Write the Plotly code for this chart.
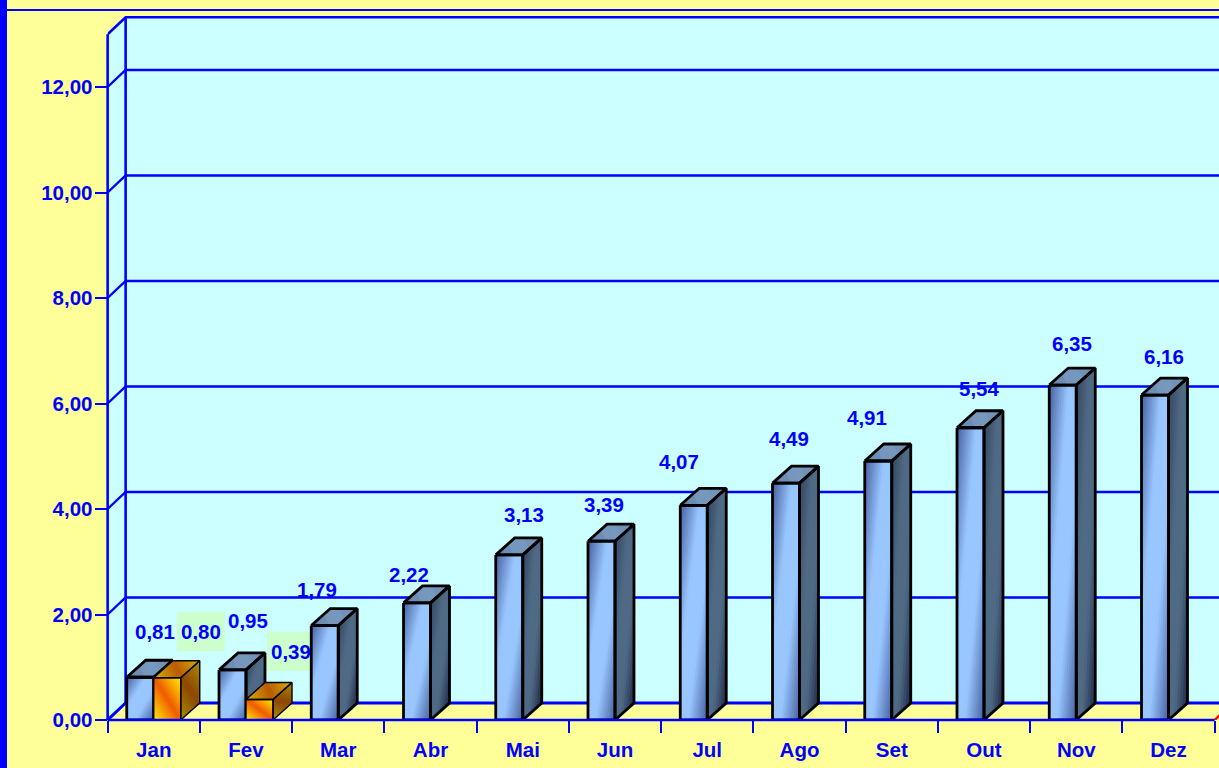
import plotly.graph_objects as go

# ---- data ----
months = ["Jan", "Fev", "Mar", "Abr", "Mai", "Jun", "Jul", "Ago", "Set", "Out", "Nov", "Dez"]
series_blue = [0.81, 0.95, 1.79, 2.22, 3.13, 3.39, 4.07, 4.49, 4.91, 5.54, 6.35, 6.16]
series_orange = [0.80, 0.39]
y_ticks = [0, 2, 4, 6, 8, 10, 12]
y_wall_top = 13.0

# ---- pixel layout constants ----
W, H = 1219, 768
PX_X, PX_Y = 92.25, 52.75        # pixels per category / per y unit
X0_PX, Y0_PX = 153.75, 720       # pixel of Jan centre / of y = 0
DEPTH_X, DEPTH_Y = 18 / PX_X, 17 / PX_Y
BAR_W, BAR_DX, BAR_DY = 27 / PX_X, 19 / PX_X, 17 / PX_Y
BLUE = "#0000FF"
YELLOW = "#FFFF99"
WALL = "#CCFFFF"
FONT = dict(family="Liberation Sans", size=20.5, color=BLUE, weight="bold")

# label offsets from (category centre, bar top) in px
blue_offsets = [(1, 46), (2, 49), (-21, 36), (-22, 28), (1, 40), (-11, 37),
                (-28, 44), (-11, 45), (-25, 44), (-5, 39), (-4, 42), (-5, 39)]
orange_offsets = [(47, 46), (45, 48)]
BG_W, BG_H = 48, 39


def lerp_color(stops, t):
    for (t0, c0), (t1, c1) in zip(stops, stops[1:]):
        if t <= t1:
            f = (t - t0) / (t1 - t0) if t1 > t0 else 0
            a = [int(c0[i:i + 2], 16) for i in (1, 3, 5)]
            b = [int(c1[i:i + 2], 16) for i in (1, 3, 5)]
            return "rgb(%d,%d,%d)" % tuple(round(p + (q - p) * f) for p, q in zip(a, b))
    return stops[-1][1]


def clip_square(fn, a):
    """polygon of unit square (u,v) where fn(u,v) >= a"""
    sq = [(0, 0), (1, 0), (1, 1), (0, 1)]
    out = []
    for i, p in enumerate(sq):
        q = sq[(i + 1) % 4]
        fp, fq = fn(*p) - a, fn(*q) - a
        if fp >= 0:
            out.append(p)
        if (fp >= 0) != (fq >= 0):
            s = fp / (fp - fq)
            out.append((p[0] + (q[0] - p[0]) * s, p[1] + (q[1] - p[1]) * s))
    return out


def gradient_traces(faces, fn, stops, bands):
    """faces: list of (origin, edge_u, edge_v); painted back to front to avoid seams"""
    traces = []
    for k in range(bands):
        a = k / bands
        xs, ys = [], []
        for (ox, oy), (ux, uy), (vx, vy) in faces:
            poly = clip_square(fn, a) if k else [(0, 0), (1, 0), (1, 1), (0, 1)]
            if len(poly) < 3:
                continue
            for u, v in poly:
                xs.append(ox + ux * u + vx * v)
                ys.append(oy + uy * u + vy * v)
            xs.append(xs[-len(poly)])
            ys.append(ys[-len(poly)])
            xs.append(None)
            ys.append(None)
        traces.append(go.Scatter(x=xs, y=ys, mode="lines", fill="toself", line=dict(width=0),
                                 fillcolor=lerp_color(stops, (k + 0.5) / bands),
                                 hoverinfo="skip", showlegend=False))
    return traces


def outline(faces, width, color="#000000"):
    xs, ys = [], []
    for (ox, oy), (ux, uy), (vx, vy) in faces:
        xs += [ox, ox + ux, ox + ux + vx, ox + vx, ox, None]
        ys += [oy, oy + uy, oy + uy + vy, oy + vy, oy, None]
    return go.Scatter(x=xs, y=ys, mode="lines", line=dict(color=color, width=width),
                      hoverinfo="skip", showlegend=False)


def bar_faces(x_left, value):
    front = ((x_left, value), (BAR_W, 0), (0, -value))
    side = ((x_left + BAR_W, value), (BAR_DX, BAR_DY), (0, -value))
    top = ((x_left, value), (BAR_W, 0), (BAR_DX, BAR_DY))
    return front, side, top


fig = go.Figure()
x_l, x_r = -0.5, (W - X0_PX) / PX_X
line = dict(color=BLUE, width=2.6)

def add_line(xs, ys, style=line):
    fig.add_trace(go.Scatter(x=xs, y=ys, mode="lines", line=style, hoverinfo="skip", showlegend=False))

# walls
fig.add_trace(go.Scatter(
    x=[x_l, x_l + DEPTH_X, x_r, x_r, x_l + DEPTH_X, x_l, x_l],
    y=[0, DEPTH_Y, DEPTH_Y, y_wall_top + DEPTH_Y, y_wall_top + DEPTH_Y, y_wall_top, 0],
    mode="lines", fill="toself", fillcolor=WALL, line=dict(width=0), hoverinfo="skip", showlegend=False))

# grid lines
for v in y_ticks:
    add_line([x_l, x_l + DEPTH_X, x_r], [v, v + DEPTH_Y, v + DEPTH_Y],
             dict(color=BLUE, width=3 if v == 0 else 2.4))
add_line([x_l, x_l + DEPTH_X, x_r], [y_wall_top, y_wall_top + DEPTH_Y, y_wall_top + DEPTH_Y])
add_line([x_l + DEPTH_X, x_l + DEPTH_X], [DEPTH_Y, y_wall_top + DEPTH_Y])
add_line([len(months) - 0.5, len(months) - 0.5 + DEPTH_X], [0, DEPTH_Y], dict(color="#FF0000", width=2.4))

# green label backgrounds
for i, v in enumerate(series_orange):
    dx, dy = orange_offsets[i]
    cx = i + dx / PX_X
    cy = v + dy / PX_Y
    hw, hh = BG_W / 2 / PX_X, BG_H / 2 / PX_Y
    fig.add_trace(go.Scatter(x=[cx - hw, cx + hw, cx + hw, cx - hw, cx - hw],
                             y=[cy - hh, cy - hh, cy + hh, cy + hh, cy - hh],
                             mode="lines", fill="toself", fillcolor="#CCFFCC", line=dict(width=0),
                             hoverinfo="skip", showlegend=False))

# blue bars
blue = [bar_faces(i - BAR_W, v) for i, v in enumerate(series_blue)]
B_FRONT = [(0, "#46609F"), (0.36, "#99C6FF"), (0.64, "#99C6FF"), (1, "#46609F")]
B_SIDE = [(0, "#34465F"), (0.35, "#4F6A85"), (0.65, "#4F6A85"), (1, "#1E2845")]
B_TOP = [(0, "#5F7FA8"), (0.5, "#7A9BC0"), (1, "#6A8AB0")]
for tr in gradient_traces([b[0] for b in blue], lambda u, v: (u + v) / 2, B_FRONT, 24):
    fig.add_trace(tr)
for tr in gradient_traces([b[1] for b in blue], lambda u, v: (u + v) / 2, B_SIDE, 14):
    fig.add_trace(tr)
for tr in gradient_traces([b[2] for b in blue], lambda u, v: (u + v) / 2, B_TOP, 6):
    fig.add_trace(tr)
for k in range(3):
    fig.add_trace(outline([b[k] for b in blue], 2.8))

# orange bars
orange = [bar_faces(i, v) for i, v in enumerate(series_orange)]
O_FRONT = [(0, "#FFF000"), (0.5, "#F05A00"), (1, "#FFF000")]
O_SIDE = [(0, "#A89000"), (0.5, "#8E4500"), (1, "#A89000")]
O_TOP = [(0, "#D8B400"), (0.5, "#B85A00"), (1, "#D8B400")]
diag = lambda u, v: (u + 1 - v) / 2
for tr in gradient_traces([o[0] for o in orange], diag, O_FRONT, 24):
    fig.add_trace(tr)
for tr in gradient_traces([o[1] for o in orange], diag, O_SIDE, 16):
    fig.add_trace(tr)
for tr in gradient_traces([o[2] for o in orange], lambda u, v: (u + v) / 2, O_TOP, 16):
    fig.add_trace(tr)
for k in range(3):
    fig.add_trace(outline([o[k] for o in orange], 1.4))

# value labels
for i, v in enumerate(series_blue):
    dx, dy = blue_offsets[i]
    fig.add_annotation(x=i, y=v, xshift=dx, yshift=dy, text=f"{v:.2f}".replace(".", ","),
                       showarrow=False, font=FONT, xanchor="center", yanchor="middle")
for i, v in enumerate(series_orange):
    dx, dy = orange_offsets[i]
    fig.add_annotation(x=i, y=v, xshift=dx, yshift=dy, text=f"{v:.2f}".replace(".", ","),
                       showarrow=False, font=FONT, xanchor="center", yanchor="middle")

# axis lines (paper coordinates so they are not clipped at the plot edge)
x_left_frac = (X0_PX - 0.5 * PX_X) / W
x_end_frac = (X0_PX + (len(months) - 0.5) * PX_X) / W
y_zero_frac = (H - Y0_PX) / H
y_top_frac = y_zero_frac + y_wall_top * PX_Y / H
axis_line = dict(color=BLUE, width=2.6)

fig.update_layout(
    width=W, height=H, margin=dict(l=0, r=0, t=0, b=0, pad=0, autoexpand=False),
    paper_bgcolor=YELLOW, plot_bgcolor=YELLOW, separators=",.", showlegend=False,
    font=FONT,
    shapes=[
        dict(type="rect", xref="paper", yref="paper", x0=0, x1=7 / W, y0=0, y1=1,
             fillcolor=BLUE, line=dict(width=0), layer="above"),
        dict(type="rect", xref="paper", yref="paper", x0=7 / W, x1=1, y0=1 - 11 / H, y1=1 - 9 / H,
             fillcolor=BLUE, line=dict(width=0), layer="above"),
        dict(type="line", xref="paper", yref="paper", x0=x_left_frac, x1=x_end_frac,
             y0=y_zero_frac, y1=y_zero_frac, line=axis_line, layer="above"),
        dict(type="line", xref="paper", yref="paper", x0=x_left_frac, x1=x_left_frac,
             y0=y_zero_frac, y1=y_top_frac, line=axis_line, layer="above"),
    ],
    xaxis=dict(
        domain=[x_left_frac, 1], range=[x_l, x_r], showgrid=False, zeroline=False,
        tickmode="array", tickvals=list(range(len(months))), ticktext=months, ticks="",
        tickfont=FONT, showline=False, ticklabelstandoff=15,
        minor=dict(ticks="outside", tick0=-0.5, dtick=1, ticklen=12, tickwidth=2.4, tickcolor=BLUE, showgrid=False),
    ),
    yaxis=dict(
        domain=[y_zero_frac, 1], range=[0, Y0_PX / PX_Y], showgrid=False, zeroline=False,
        tickmode="array", tickvals=y_ticks, tickformat=".2f", ticks="outside", ticklen=12,
        tickwidth=2.4, tickcolor=BLUE, tickfont=FONT, showline=False, ticklabelstandoff=-2,
    ),
)

fig.write_html("out.html", config=dict(displayModeBar=False),
               post_script="document.body.style.margin='0';document.body.style.overflow='hidden';")
